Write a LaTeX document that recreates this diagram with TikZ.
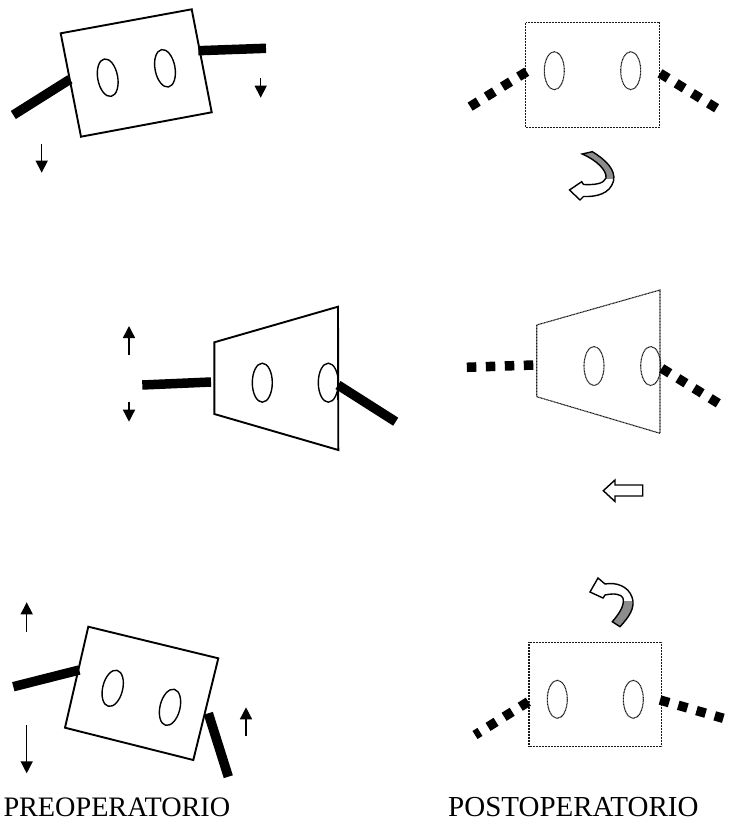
\documentclass[tikz,border=0pt]{standalone}
\usepackage{fontspec}
\newfontfamily\labfont{Liberation Serif}
\usetikzlibrary{arrows.meta}
\begin{document}
\begin{tikzpicture}[x=1pt,y=-1pt,
 preline/.style={line width=1.9pt, line join=miter},
 prehole/.style={line width=1.4pt},
 postline/.style={line width=1.1pt, dash pattern=on 1pt off 0.5pt, black!90},
 prebar/.style={line width=9.5pt},
 postbar/.style={line width=9.5pt, dash pattern=on 9.5pt off 9.5pt},
 shiftarrow/.style={line width=1.5pt, -{Triangle[width=12pt,length=12pt]}},
 labeltext/.style={font=\labfont\fontsize{28.2pt}{30pt}\selectfont, inner sep=0pt, anchor=base west},
 curlyarrow/.style={line width=1.4pt, line join=miter},
 bandfill/.style={fill=black!45},
]
\path[use as bounding box] (0,0) rectangle (730,824);

% ---------- top left (pre) ----------
\draw[preline] (60.7,33.3) -- (191.7,9.3) -- (211.7,112.3) -- (81,136.7) -- cycle;
\draw[prehole, rotate around={10.4:(107.7,77.7)}] (107.7,77.7) ellipse [x radius=10pt, y radius=19pt];
\draw[prehole, rotate around={10.4:(165,68.3)}] (165,68.3) ellipse [x radius=10pt, y radius=19pt];
\coordinate (tlA) at (70,79.3); \coordinate (tlAo) at (13.3,115);
\coordinate (tlB) at (198.3,50.7); \coordinate (tlBo) at (266,48.3);
\draw[prebar] (tlA) -- (tlAo);
\draw[prebar] (tlB) -- (tlBo);
\draw[shiftarrow] (41.7,144) -- (41.7,172.7);
\draw[shiftarrow] (260.7,77.7) -- (260.7,97.7);

% ---------- top right (post) ----------
\draw[postline] (525.7,22.7) rectangle (659.3,127.7);
\draw[postline] (554.3,70.7) ellipse [x radius=10pt, y radius=19pt];
\draw[postline] (630.7,70.7) ellipse [x radius=10pt, y radius=19pt];
\coordinate (trA) at (526.7,71.7); \coordinate (trAo) at (470,106.7);
\coordinate (trB) at (660,73.3); \coordinate (trBo) at (716.7,108.3);
\draw[postbar] (trA) -- (trAo);
\draw[postbar] (trB) -- (trBo);
% curved arrow (top)
\def\toparrow{(582.3,154) -- (592.3,151.7) .. controls (606,160) and (616,170) .. (613.5,181)
  .. controls (610,194) and (596,197) .. (583.5,196.5) -- (580,200) -- (569.5,190) -- (581.7,181.7)
  -- (583.5,184.5) .. controls (594,185) and (604,184) .. (606,178)
  .. controls (607,170) and (596,160) .. cycle}
\fill[white] \toparrow;
\begin{scope}
  \clip \toparrow;
  \fill[bandfill] (570,140) rectangle (640,179);
\end{scope}
\draw[curlyarrow] \toparrow;

% ---------- middle left (pre) ----------
\draw[preline] (214.3,342.3) -- (338,306.7) -- (338.3,450) -- (214.3,414) -- cycle;
\draw[prehole] (262.3,382.7) ellipse [x radius=10pt, y radius=19.5pt];
\draw[prehole] (328.3,382.7) ellipse [x radius=10pt, y radius=19.5pt];
\coordinate (mlA) at (211,382); \coordinate (mlAo) at (142.3,385);
\coordinate (mlB) at (338,385); \coordinate (mlBo) at (395.7,421.7);
\draw[prebar] (mlA) -- (mlAo);
\draw[prebar] (mlB) -- (mlBo);
\draw[shiftarrow] (129,355) -- (129,326);
\draw[shiftarrow] (129,401.7) -- (129,421.7);

% ---------- middle right (post) ----------
\draw[postline] (536.7,325) -- (660,290) -- (660,433.3) -- (536.7,396.7) -- cycle;
\draw[postline] (594,366) ellipse [x radius=10pt, y radius=19.5pt];
\draw[postline] (650.7,366) ellipse [x radius=10pt, y radius=19.5pt];
\coordinate (mrA) at (533.3,365); \coordinate (mrAo) at (466.7,367.3);
\coordinate (mrB) at (661.7,368.3); \coordinate (mrBo) at (718.3,403.3);
\draw[postbar] (mrA) -- (mrAo);
\draw[postbar] (mrB) -- (mrBo);
\draw[curlyarrow, fill=white] (603.3,490.7) -- (615,480) -- (615,485) -- (642.7,485)
  -- (642.7,496) -- (615,496) -- (615,501.5) -- cycle;

% ---------- bottom left (pre) ----------
\draw[preline] (88.3,626.7) -- (218.3,658.3) -- (193.3,760) -- (65,727.7) -- cycle;
\draw[prehole, rotate around={-13.7:(112.7,688.3)}] (112.7,688.3) ellipse [x radius=10pt, y radius=18.5pt];
\draw[prehole, rotate around={-13.7:(170,707.3)}] (170,707.3) ellipse [x radius=10pt, y radius=18.5pt];
\coordinate (blA) at (79.3,670); \coordinate (blAo) at (13.3,686.7);
\coordinate (blB) at (208.3,713.3); \coordinate (blBo) at (228.3,776.7);
\draw[prebar] (blA) -- (blAo);
\draw[prebar] (blB) -- (blBo);
\draw[shiftarrow] (26.7,631.7) -- (26.7,602.3);
\draw[shiftarrow] (26.7,725) -- (26.7,773.3);
\draw[shiftarrow] (246,736) -- (246,707.3);

% ---------- bottom right (post) ----------
\draw[postline] (529,642.3) rectangle (661.7,746.7);
\draw[postline] (557.3,699.3) ellipse [x radius=10pt, y radius=19pt];
\draw[postline] (633.3,699.3) ellipse [x radius=10pt, y radius=19pt];
\coordinate (brA) at (528.3,701.7); \coordinate (brAo) at (475,735);
\coordinate (brB) at (660,700); \coordinate (brBo) at (723.3,718.3);
\draw[postbar] (brA) -- (brAo);
\draw[postbar] (brB) -- (brBo);
% curved arrow (bottom)
\def\botarrow{(612.3,621.7) -- (620,626.7) .. controls (628,618) and (636,608) .. (632,597)
  .. controls (628,586) and (616,582) .. (605,584) -- (598,578) -- (590,592) -- (603,598)
  -- (605,595) .. controls (614,593) and (621,594) .. (623,598)
  .. controls (625,606) and (618,615) .. cycle}
\fill[white] \botarrow;
\begin{scope}
  \clip \botarrow;
  \fill[bandfill] (600,601) rectangle (645,640);
\end{scope}
\draw[curlyarrow] \botarrow;

% ---------- labels ----------
\node[labeltext] (pre) at (3.3,816.7) {PREOPERATORIO};
\node[labeltext, font=\labfont\fontsize{29pt}{30pt}\selectfont] (post) at (448,816.7) {POSTOPERATORIO};
\end{tikzpicture}
\end{document}
